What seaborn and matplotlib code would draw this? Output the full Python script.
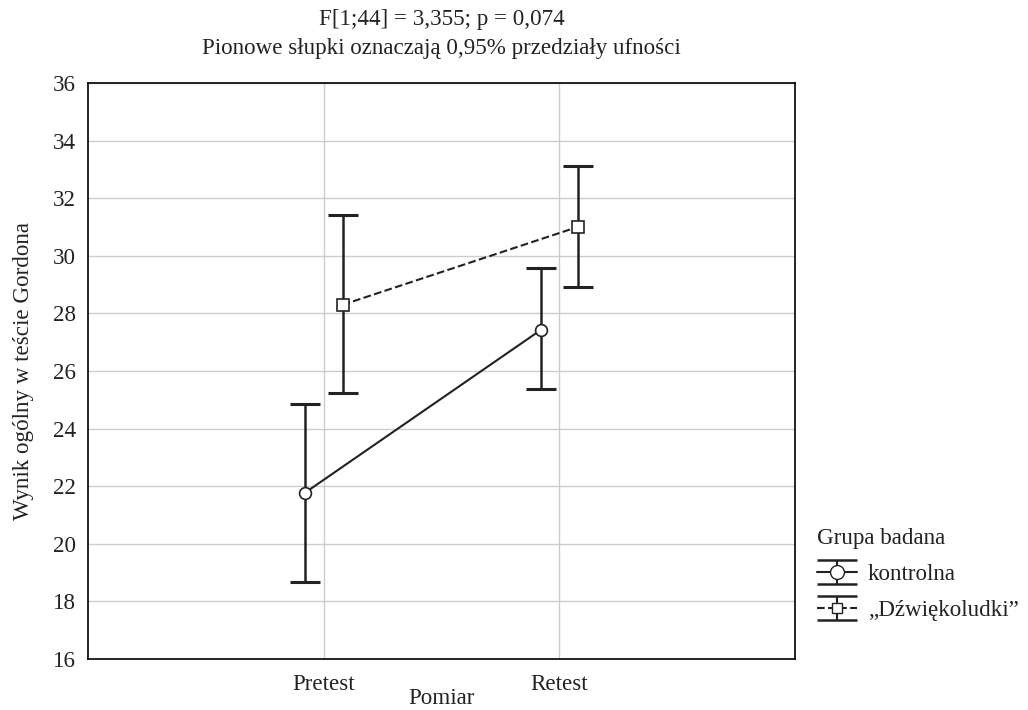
import numpy as np
import pandas as pd
import matplotlib
matplotlib.use("Agg")
import matplotlib.pyplot as plt
import seaborn as sns
from matplotlib.container import ErrorbarContainer
from matplotlib.legend_handler import HandlerErrorbar

# dane
pomiar = ["Pretest", "Retest"]
grupy = ["kontrolna", "\u201eDźwiękoludki\u201d"]
srednie_kontrolna = [21.77, 27.42]
srednie_dzwiek = [28.30, 31.01]
dolne_kontrolna = [18.68, 25.38]
gorne_kontrolna = [24.85, 29.59]
dolne_dzwiek = [25.25, 28.93]
gorne_dzwiek = [31.41, 33.12]

sns.set_theme(style="white")
plt.rcParams["font.family"] = ["Liberation Serif", "DejaVu Serif"]
FS = 16.6
KOLOR = "#222222"

df = pd.DataFrame({
    "Pomiar": pomiar * 2,
    "Grupa": [grupy[0]] * 2 + [grupy[1]] * 2,
    "Wynik": srednie_kontrolna + srednie_dzwiek,
})

fig = plt.figure(figsize=(10.28, 7.1), dpi=100)
ax = fig.add_axes([0.0856, 0.0718, 0.6878, 0.8112])

dodge = 0.16
sns.pointplot(data=df, x="Pomiar", y="Wynik", hue="Grupa", order=pomiar,
              hue_order=grupy, palette=[KOLOR, KOLOR],
              markers=["o", "s"], linestyles=["-", "--"], dodge=dodge,
              errorbar=None, markersize=8.5, linewidth=1.5,
              markerfacecolor="white", markeredgewidth=1.2,
              legend=False, ax=ax, zorder=5)

offsets = np.linspace(0, dodge, len(grupy))
offsets -= offsets.mean()
idx = np.arange(len(pomiar))
for off, m, lo, hi in [(offsets[0], srednie_kontrolna, dolne_kontrolna, gorne_kontrolna),
                       (offsets[1], srednie_dzwiek, dolne_dzwiek, gorne_dzwiek)]:
    m = np.array(m)
    err = [m - np.array(lo), np.array(hi) - m]
    ax.errorbar(idx + off, m, yerr=err, fmt="none", ecolor=KOLOR,
                elinewidth=1.8, capsize=11, capthick=2.2, zorder=3)

ax.set_xlim(-1, 2)
ax.set_ylim(16, 36)
ax.set_yticks(np.arange(16, 37, 2))
ax.set_xticks(idx)
ax.set_xticklabels(pomiar)
ax.grid(True, color="#cccccc", linewidth=1)
ax.set_axisbelow(True)
for s in ax.spines.values():
    s.set_color("black")
    s.set_linewidth(1.2)
ax.tick_params(axis="y", direction="out", length=5, width=1, color="black",
               labelsize=FS, labelcolor=KOLOR)
ax.tick_params(axis="x", direction="out", length=0, pad=11,
               labelsize=FS, labelcolor=KOLOR)
ax.set_xlabel("Pomiar", fontsize=FS, labelpad=-5, color=KOLOR)
ax.set_ylabel("Wynik ogólny w teście Gordona", fontsize=FS, labelpad=14, color=KOLOR)
ax.set_title("F[1;44] = 3,355; p = 0,074\nPionowe słupki oznaczają 0,95% przedziały ufności",
             fontsize=FS, linespacing=1.5, pad=21, color=KOLOR)

# uchwyty legendy w stylu słupków błędu
handles = []
for mk, ls, ms in [("o", "-", 10), ("s", "--", 7.5)]:
    h = ax.errorbar([np.nan], [np.nan], yerr=[[1], [1]], fmt=mk, linestyle=ls,
                    color=KOLOR, ecolor=KOLOR, markersize=ms,
                    markerfacecolor="white", linewidth=1.5, elinewidth=1.5,
                    capsize=14.5, capthick=1.8)
    handles.append(h)
leg = ax.legend(handles, grupy, title="Grupa badana", loc="lower left",
                bbox_to_anchor=(1.018, 0.05), frameon=False, fontsize=FS,
                title_fontsize=FS, handlelength=1.75, handletextpad=0.45,
                labelspacing=0.65, borderaxespad=0,
                handler_map={ErrorbarContainer: HandlerErrorbar(yerr_size=0.53)})
leg._legend_box.align = "left"
for t in leg.get_texts():
    t.set_color(KOLOR)
leg.get_title().set_color(KOLOR)

fig.savefig("out.png", dpi=100)
